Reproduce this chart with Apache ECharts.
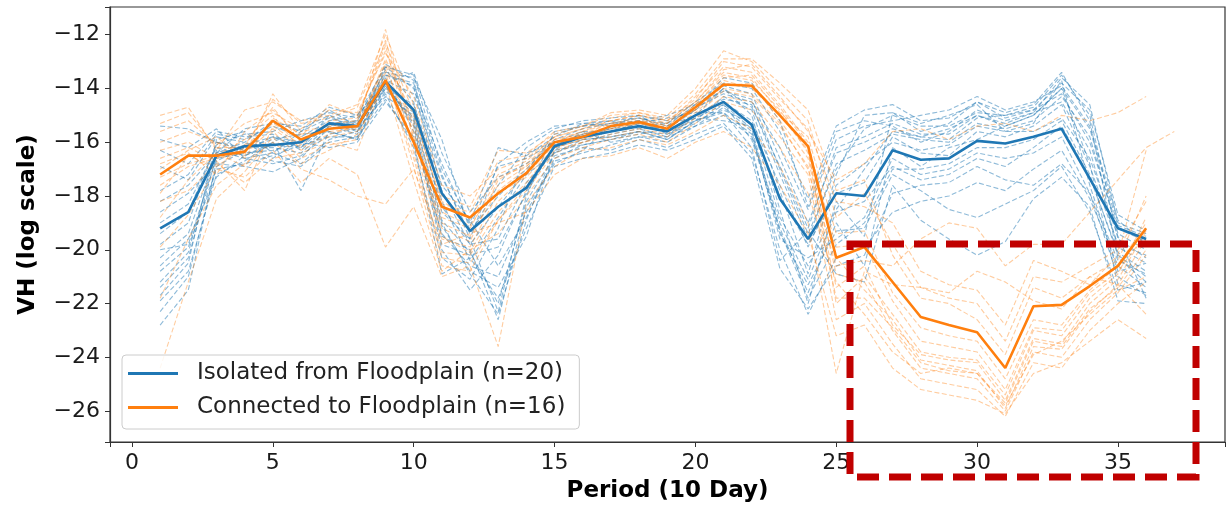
<!DOCTYPE html>
<html>
<head>
<meta charset="utf-8">
<title>VH by period</title>
<script src="https://cdn.jsdelivr.net/npm/echarts@6/dist/echarts.min.js"></script>
<style>
  html, body { margin: 0; padding: 0; background: #fff; }
  #chart { width: 1227px; height: 508px; }
</style>
</head>
<body>
<div id="chart"></div>
<script>
// periods (10 day)
const periods = [1, 2, 3, 4, 5, 6, 7, 8, 9, 10, 11, 12, 13, 14, 15, 16, 17, 18, 19, 20,
  21, 22, 23, 24, 25, 26, 27, 28, 29, 30, 31, 32, 33, 34, 35, 36, 37]

const xTicks = [0, 5, 10, 15, 20, 25, 30, 35]
const yTicks = [-26, -24, -22, -20, -18, -16, -14, -12]

// mean lines
const isolatedMean = [-19.2, -18.6, -16.5, -16.15, -16.1, -16.0, -15.3, -15.4, -13.75, -14.8, -17.9, -19.3,
  -18.4, -17.7, -16.15, -15.8, -15.6, -15.4, -15.6, -15.0, -14.5, -15.35, -18.1, -19.6,
  -17.9, -18.0, -16.3, -16.65, -16.6, -15.95, -16.05, -15.8, -15.5, -17.35, -19.2, -19.6]
const connectedMean = [-17.2, -16.5, -16.5, -16.35, -15.2, -15.9, -15.5, -15.4, -13.7, -16.0, -18.4, -18.8,
  -17.9, -17.15, -16.0, -15.8, -15.4, -15.25, -15.5, -14.7, -13.85, -13.9, -15.0, -16.15,
  -20.3, -19.9, -21.2, -22.5, -22.8, -23.07, -24.4, -22.1, -22.05, -21.35, -20.6, -19.2]

// isolated sites (n=20)
const iso01 = [-15.4, -15.5, -16.0, -16.3, -15.8, -16.2, -15.0, -15.6, -13.2, -13.5, -17.0, -19.0, -16.2, -16.5, -15.8, -15.3, -15.4, -15.0, -15.2, -14.8, -13.6, -13.8, -15.2, -18.4, -15.6, -15.2, -15.4, -16.0, -15.6, -14.8, -15.2, -14.9, -13.6, -14.6, -19.0, -19.4]
const iso02 = [-16.9, -17.4, -15.8, -16.0, -16.6, -15.9, -15.3, -15.2, -13.5, -13.9, -18.2, -20.4, -18.8, -17.2, -16.4, -15.9, -15.8, -15.6, -15.9, -15.2, -14.3, -14.8, -17.8, -20.9, -17.2, -15.0, -14.9, -15.6, -15.3, -14.5, -14.9, -14.6, -13.4, -15.2, -20.3, -21.2]
const iso03 = [-19.0, -18.3, -16.2, -16.5, -16.0, -17.8, -15.6, -15.9, -13.9, -15.2, -19.5, -20.0, -22.6, -18.4, -16.8, -16.3, -15.4, -15.2, -15.7, -15.3, -14.6, -15.9, -19.2, -21.6, -19.0, -20.6, -16.2, -16.9, -16.2, -15.9, -15.4, -15.0, -14.0, -16.8, -21.3, -21.6]
const iso04 = [-20.3, -19.4, -16.4, -16.0, -15.2, -15.6, -14.8, -15.4, -13.3, -14.5, -18.6, -19.6, -22.3, -18.0, -15.6, -15.4, -15.2, -15.5, -15.8, -15.0, -14.0, -15.0, -18.5, -22.0, -18.2, -19.5, -14.9, -15.3, -15.0, -14.6, -15.6, -15.3, -13.7, -17.6, -20.8, -20.5]
const iso05 = [-21.7, -20.5, -15.9, -15.6, -16.4, -16.8, -15.9, -15.6, -14.2, -16.2, -20.3, -21.1, -19.2, -16.4, -16.0, -15.8, -15.6, -15.3, -15.1, -14.9, -14.9, -16.2, -20.4, -19.3, -20.9, -21.2, -17.6, -18.9, -19.6, -20.2, -19.7, -18.1, -17.3, -18.4, -21.9, -22.0]
const iso06 = [-22.8, -21.5, -16.7, -16.2, -16.2, -16.4, -15.5, -15.3, -13.6, -15.6, -19.1, -20.8, -21.4, -19.5, -16.3, -15.6, -16.0, -15.8, -16.0, -15.4, -14.7, -15.6, -19.6, -20.3, -19.6, -18.8, -16.6, -17.2, -17.0, -16.4, -16.6, -16.4, -15.8, -17.9, -20.4, -20.9]
const iso07 = [-20.8, -19.9, -17.0, -16.8, -16.5, -16.1, -15.8, -15.8, -14.0, -14.6, -17.6, -18.9, -20.6, -18.8, -16.6, -16.1, -15.9, -15.7, -15.5, -15.1, -15.2, -15.4, -18.0, -19.8, -17.9, -17.5, -15.8, -16.4, -16.5, -15.6, -15.8, -15.4, -14.6, -16.9, -19.8, -20.2]
const iso08 = [-19.4, -18.6, -16.1, -15.7, -15.6, -15.2, -14.9, -15.1, -13.4, -13.6, -15.9, -19.3, -18.0, -17.0, -15.9, -15.5, -15.3, -15.1, -15.4, -14.6, -13.9, -14.2, -16.6, -19.0, -16.4, -16.0, -15.5, -15.8, -15.9, -15.1, -15.0, -14.8, -14.2, -16.0, -19.2, -19.7]
const iso09 = [-21.2, -20.1, -16.3, -16.6, -16.8, -16.5, -15.7, -15.5, -14.3, -15.0, -18.9, -20.1, -22.0, -18.2, -16.5, -16.2, -16.3, -15.9, -16.2, -15.7, -15.3, -16.4, -20.0, -22.4, -20.3, -19.9, -18.6, -18.2, -18.0, -17.5, -17.8, -17.0, -16.3, -18.1, -20.6, -21.4]
const iso10 = [-17.8, -17.2, -15.7, -15.9, -15.4, -15.8, -15.2, -15.0, -13.8, -13.4, -16.4, -18.6, -17.3, -16.8, -16.1, -15.7, -15.5, -15.4, -15.3, -14.7, -14.2, -14.5, -16.2, -18.5, -15.9, -15.4, -15.2, -15.0, -14.8, -14.3, -14.8, -14.5, -13.9, -15.4, -18.9, -19.8]
const iso11 = [-20.0, -19.8, -16.6, -16.4, -16.3, -16.0, -16.2, -16.0, -14.5, -15.8, -19.4, -20.6, -21.0, -18.6, -16.7, -16.4, -16.1, -15.8, -15.8, -15.4, -15.0, -15.8, -19.0, -21.1, -18.6, -18.2, -16.9, -17.4, -17.2, -16.6, -16.9, -16.2, -15.4, -17.3, -20.1, -20.8]
const iso12 = [-18.6, -17.9, -16.8, -16.9, -17.1, -16.6, -15.4, -15.7, -13.7, -14.2, -17.3, -19.4, -17.6, -16.2, -15.5, -15.2, -15.1, -15.0, -15.6, -15.0, -14.4, -14.6, -17.2, -19.6, -16.8, -16.3, -15.7, -15.9, -16.0, -15.3, -15.5, -15.2, -14.3, -15.8, -19.4, -20.0]
const iso13 = [-21.9, -20.8, -17.2, -16.7, -16.0, -15.5, -15.0, -15.3, -13.8, -15.4, -20.0, -21.5, -20.2, -17.8, -16.2, -15.9, -15.8, -15.6, -15.9, -15.2, -14.8, -15.3, -18.8, -20.6, -18.5, -17.0, -15.6, -15.8, -15.5, -15.0, -15.3, -14.9, -14.5, -16.3, -19.9, -20.5]
const iso14 = [-19.8, -19.0, -16.0, -16.2, -15.9, -15.7, -15.6, -15.9, -14.1, -14.9, -18.4, -19.8, -19.6, -17.5, -16.4, -16.0, -15.7, -15.5, -15.4, -15.0, -14.5, -15.2, -17.6, -19.9, -17.6, -16.8, -16.0, -16.3, -16.1, -15.4, -15.6, -15.6, -15.1, -16.6, -19.5, -21.8]
const iso15 = [-16.3, -16.8, -15.6, -15.8, -15.7, -16.3, -15.4, -15.2, -13.1, -13.7, -17.8, -19.8, -18.4, -17.1, -15.7, -15.4, -15.3, -15.2, -15.0, -14.6, -14.1, -14.4, -17.0, -19.4, -17.0, -15.5, -15.0, -15.4, -15.4, -14.9, -15.0, -14.7, -13.5, -15.0, -19.6, -20.3]
const iso16 = [-22.3, -21.0, -16.9, -16.3, -16.7, -16.9, -16.0, -15.8, -14.4, -16.0, -20.9, -20.3, -21.8, -19.2, -16.9, -16.6, -16.4, -16.1, -16.3, -15.9, -15.4, -16.6, -20.7, -22.2, -20.6, -20.2, -17.9, -17.6, -17.5, -16.9, -17.4, -17.6, -16.8, -17.9, -21.0, -21.7]
const iso17 = [-18.2, -17.6, -16.4, -15.5, -15.3, -15.4, -14.7, -15.0, -13.2, -14.0, -16.8, -19.1, -16.9, -16.6, -16.0, -15.6, -15.6, -15.3, -15.5, -14.8, -14.0, -14.7, -16.9, -19.2, -16.2, -15.8, -15.3, -15.7, -15.7, -15.0, -15.4, -15.0, -14.0, -15.5, -19.1, -19.5]
const iso18 = [-20.6, -19.6, -17.3, -16.5, -16.1, -16.2, -15.3, -15.6, -13.9, -15.3, -19.8, -20.2, -19.9, -17.9, -16.1, -15.7, -15.5, -15.2, -15.6, -15.2, -14.9, -15.7, -19.4, -21.3, -19.3, -19.2, -17.2, -17.8, -18.5, -18.8, -18.3, -17.8, -16.9, -18.6, -21.5, -21.2]
const iso19 = [-15.9, -16.2, -15.5, -16.6, -16.4, -15.6, -15.1, -15.4, -13.5, -13.8, -17.2, -19.6, -16.8, -16.0, -15.4, -15.3, -15.2, -15.1, -15.3, -14.5, -13.8, -14.0, -15.6, -18.1, -15.4, -14.8, -14.6, -15.2, -15.1, -14.5, -15.1, -14.8, -13.8, -14.8, -18.7, -19.3]
const iso20 = [-21.4, -20.3, -16.5, -16.1, -15.8, -16.0, -15.5, -15.4, -14.0, -15.1, -19.0, -20.9, -22.4, -18.9, -16.3, -16.1, -15.9, -15.6, -15.7, -15.1, -14.6, -15.5, -19.3, -21.8, -19.8, -19.0, -17.0, -17.0, -16.8, -16.2, -16.2, -15.9, -15.2, -17.2, -20.2, -21.0]

// connected sites (n=16)
const con01 = [-15.0, -14.7, -16.3, -14.8, -14.5, -15.2, -15.0, -14.6, -12.0, -14.6, -18.0, -18.4, -16.3, -16.4, -15.7, -15.4, -14.9, -14.8, -15.0, -14.0, -12.6, -13.0, -14.1, -15.2, -18.8, -17.9, -19.8, -21.4, -21.8, -22.0, -23.4, -21.0, -21.2, -20.6, -20.0, -18.2]
const con02 = [-16.0, -15.6, -16.0, -16.5, -14.2, -15.6, -15.4, -15.3, -11.8, -15.8, -19.0, -19.5, -17.8, -17.0, -16.0, -15.6, -15.2, -15.0, -15.3, -14.3, -13.2, -13.4, -14.6, -16.0, -20.3, -21.5, -22.6, -24.1, -24.3, -24.5, -25.9, -23.6, -23.7, -22.3, -21.3, -19.6]
const con03 = [-16.6, -16.2, -16.7, -17.8, -15.4, -16.1, -15.2, -15.1, -12.4, -16.4, -20.1, -20.2, -18.6, -17.5, -16.2, -15.9, -15.6, -15.4, -15.6, -14.6, -13.5, -13.7, -14.8, -16.4, -20.9, -21.2, -23.0, -24.4, -24.6, -24.8, -26.0, -23.8, -24.0, -22.6, -21.6, -20.2]
const con04 = [-17.3, -16.8, -16.5, -15.9, -15.0, -16.3, -15.8, -15.6, -13.0, -15.2, -18.6, -19.1, -17.6, -16.9, -15.9, -15.7, -15.3, -15.1, -15.4, -14.8, -13.9, -13.8, -15.2, -16.6, -21.4, -20.6, -22.8, -23.9, -24.1, -24.2, -25.6, -23.3, -23.5, -22.0, -21.1, -19.3]
const con05 = [-18.8, -17.4, -16.4, -16.9, -15.6, -16.6, -16.1, -15.9, -13.4, -16.9, -20.6, -20.8, -18.9, -17.8, -16.4, -16.0, -15.8, -15.6, -15.8, -15.1, -14.3, -14.5, -15.8, -17.2, -22.6, -22.0, -23.5, -24.8, -25.0, -25.2, -26.2, -24.2, -24.4, -23.0, -22.0, -21.2]
const con06 = [-15.6, -15.2, -16.1, -15.3, -14.9, -15.5, -14.8, -14.9, -12.7, -14.3, -17.6, -18.0, -17.0, -16.6, -15.8, -15.5, -15.1, -14.9, -15.2, -14.5, -13.3, -13.1, -14.3, -15.6, -17.4, -16.8, -15.6, -15.5, -15.9, -15.4, -15.3, -15.6, -15.0, -15.2, -14.9, -14.3]
const con07 = [-19.9, -18.7, -17.0, -17.3, -16.3, -17.5, -16.6, -17.2, -19.9, -18.4, -21.0, -20.6, -23.6, -18.3, -16.9, -16.3, -16.2, -15.9, -16.1, -15.6, -15.0, -15.5, -16.9, -19.0, -24.6, -20.8, -21.3, -21.4, -21.6, -20.8, -21.2, -21.9, -22.2, -21.0, -21.3, -22.4]
const con08 = [-17.9, -16.5, -16.9, -16.2, -15.3, -15.9, -15.5, -15.4, -13.3, -15.6, -19.5, -20.1, -18.2, -17.2, -16.1, -15.8, -15.5, -15.3, -15.5, -14.8, -13.7, -14.0, -15.0, -16.3, -22.0, -21.0, -22.4, -23.8, -24.0, -24.1, -25.4, -23.0, -23.2, -21.8, -20.9, -18.8]
const con09 = [-16.3, -16.0, -16.6, -16.1, -14.7, -16.0, -15.3, -15.2, -12.2, -15.9, -19.2, -19.7, -17.4, -16.8, -15.9, -15.6, -15.3, -15.2, -15.3, -14.5, -13.4, -13.6, -14.9, -15.8, -19.4, -19.3, -21.6, -22.9, -23.2, -23.4, -24.8, -22.6, -22.8, -21.5, -20.6, -19.0]
const con10 = [-21.8, -19.6, -17.6, -16.8, -16.0, -16.8, -16.3, -15.7, -13.8, -17.4, -20.8, -20.0, -19.4, -18.0, -16.6, -16.2, -15.9, -15.7, -16.0, -15.3, -14.5, -14.8, -16.2, -17.9, -21.2, -22.4, -23.8, -24.6, -24.4, -24.6, -25.8, -23.9, -23.4, -22.4, -21.5, -21.0]
const con11 = [-17.0, -16.3, -15.8, -16.6, -15.1, -15.7, -15.6, -15.5, -12.9, -15.0, -18.2, -18.8, -17.2, -16.7, -15.8, -15.5, -15.2, -15.0, -15.2, -14.4, -13.0, -13.2, -14.4, -15.5, -18.2, -18.4, -19.0, -20.8, -21.3, -21.5, -22.8, -20.4, -20.8, -21.3, -20.2, -16.3]
const con12 = [-24.4, -21.2, -18.1, -17.1, -15.8, -17.0, -17.4, -18.0, -18.3, -17.0, -19.8, -19.4, -19.0, -18.6, -17.2, -16.6, -16.5, -16.2, -16.6, -16.0, -15.6, -16.2, -17.6, -19.4, -23.2, -22.8, -24.4, -25.2, -25.4, -25.6, -26.1, -24.6, -24.2, -23.4, -22.6, -23.3]
const con13 = [-15.3, -14.9, -16.2, -16.2, -14.4, -15.3, -15.1, -14.7, -12.3, -14.9, -18.3, -18.6, -16.7, -16.5, -15.6, -15.4, -15.0, -14.9, -15.1, -14.2, -12.9, -12.9, -13.8, -14.8, -17.8, -17.4, -20.2, -21.8, -22.0, -22.6, -23.9, -21.4, -21.8, -21.0, -20.4, -18.0]
const con14 = [-18.2, -17.8, -16.8, -17.5, -16.6, -16.4, -16.0, -16.3, -13.6, -16.6, -20.3, -20.5, -18.9, -17.6, -16.3, -16.0, -15.7, -15.5, -15.7, -15.0, -14.1, -14.3, -15.4, -16.9, -21.8, -21.8, -22.9, -24.2, -24.5, -24.6, -25.7, -23.4, -23.6, -22.2, -21.4, -20.0]
const con15 = [-16.8, -16.4, -17.2, -15.6, -14.8, -15.8, -14.6, -15.0, -12.6, -15.4, -18.8, -19.2, -17.3, -16.9, -16.0, -15.7, -15.4, -15.2, -15.4, -14.6, -13.6, -13.5, -14.7, -16.1, -19.9, -19.8, -21.9, -23.4, -23.6, -23.8, -25.2, -22.9, -23.0, -21.6, -20.8, -19.4]
const con16 = [-17.6, -16.9, -16.6, -16.4, -15.5, -16.2, -15.7, -15.4, -13.1, -16.1, -19.6, -19.9, -17.9, -17.3, -16.2, -15.9, -15.5, -15.3, -15.6, -14.9, -14.0, -14.2, -15.3, -17.0, -20.6, -20.4, -20.6, -19.6, -19.0, -19.2, -20.6, -19.8, -19.8, -18.6, -17.4, -16.2, -15.6]

const isolatedSites = [iso01, iso02, iso03, iso04, iso05, iso06, iso07, iso08, iso09, iso10,
  iso11, iso12, iso13, iso14, iso15, iso16, iso17, iso18, iso19, iso20]
const connectedSites = [con01, con02, con03, con04, con05, con06, con07, con08,
  con09, con10, con11, con12, con13, con14, con15, con16]

const BLUE = '#1f77b4'
const ORANGE = '#ff7f0e'
const isoName = 'Isolated from Floodplain (n=20)'
const conName = 'Connected to Floodplain (n=16)'

const toPoints = arr => arr.map((v, i) => [periods[i], v])

function thinLine(name, arr, color, opacity) {
  return {
    name: name,
    type: 'line',
    data: toPoints(arr),
    symbol: 'none',
    silent: true,
    lineStyle: { color: color, width: 1.1, type: [5, 2.5], opacity: opacity },
    itemStyle: { color: color },
    z: 2
  }
}

const series = []
isolatedSites.forEach((arr, i) => series.push(thinLine('iso' + (i + 1), arr, BLUE, 0.5)))
connectedSites.forEach((arr, i) => series.push(thinLine('con' + (i + 1), arr, ORANGE, 0.4)))

series.push({
  name: isoName,
  type: 'line',
  data: toPoints(isolatedMean),
  symbol: 'none',
  lineStyle: { color: BLUE, width: 2.6 },
  itemStyle: { color: BLUE },
  z: 3
})
series.push({
  name: conName,
  type: 'line',
  data: toPoints(connectedMean),
  symbol: 'none',
  lineStyle: { color: ORANGE, width: 2.6 },
  itemStyle: { color: ORANGE },
  z: 4
})

const chart = echarts.init(document.getElementById('chart'))

const labelFont = { fontFamily: 'DejaVu Sans', fontSize: 22, color: '#1a1a1a' }

chart.setOption({
  animation: false,
  backgroundColor: '#fff',
  grid: {
    left: 110, right: 2, top: 7, bottom: 65,
    show: true, borderColor: '#333', borderWidth: 1.2, backgroundColor: 'transparent'
  },
  legend: {
    data: [isoName, conName],
    orient: 'vertical',
    left: 122,
    top: 355,
    icon: 'rect',
    itemWidth: 50,
    itemHeight: 3,
    itemGap: 11,
    padding: [7, 14, 10, 6],
    backgroundColor: 'rgba(255,255,255,0.85)',
    borderColor: '#cccccc',
    borderWidth: 1,
    borderRadius: 4,
    z: 10,
    selectedMode: false,
    textStyle: { fontFamily: 'DejaVu Sans', fontSize: 23, color: '#222', padding: [0, 0, 0, 14] }
  },
  xAxis: {
    type: 'value',
    min: -0.78,
    max: 38.8,
    splitNumber: 8,
    name: 'Period (10 Day)',
    nameLocation: 'middle',
    nameGap: 38,
    nameTextStyle: { fontFamily: 'DejaVu Sans', fontWeight: 'bold', fontSize: 23, color: '#000' },
    splitLine: { show: false },
    axisLine: { show: true, onZero: false, lineStyle: { color: '#333', width: 1.2 } },
    axisTick: { show: true, inside: false, length: 5, lineStyle: { color: '#333' } },
    axisLabel: Object.assign({ margin: 10, customValues: xTicks }, labelFont)
  },
  yAxis: {
    type: 'value',
    min: -27.15,
    max: -10.97,
    splitNumber: 8,
    name: 'VH (log scale)',
    nameLocation: 'middle',
    nameGap: 70,
    nameTextStyle: { fontFamily: 'DejaVu Sans', fontWeight: 'bold', fontSize: 23, color: '#000' },
    splitLine: { show: false },
    axisLine: { show: true, onZero: false, lineStyle: { color: '#333', width: 1.2 } },
    axisTick: { show: true, inside: false, length: 5, lineStyle: { color: '#333' } },
    axisLabel: Object.assign({
      margin: 10,
      customValues: yTicks,
      formatter: v => String(v).replace('-', '\u2212')
    }, labelFont)
  },
  graphic: [{
    type: 'rect',
    z: 100,
    shape: { x: 850, y: 244, width: 346, height: 233 },
    style: { fill: 'none', stroke: '#c00000', lineWidth: 7, lineDash: [22, 10] },
    silent: true
  }],
  series: series
})
</script>
</body>
</html>
